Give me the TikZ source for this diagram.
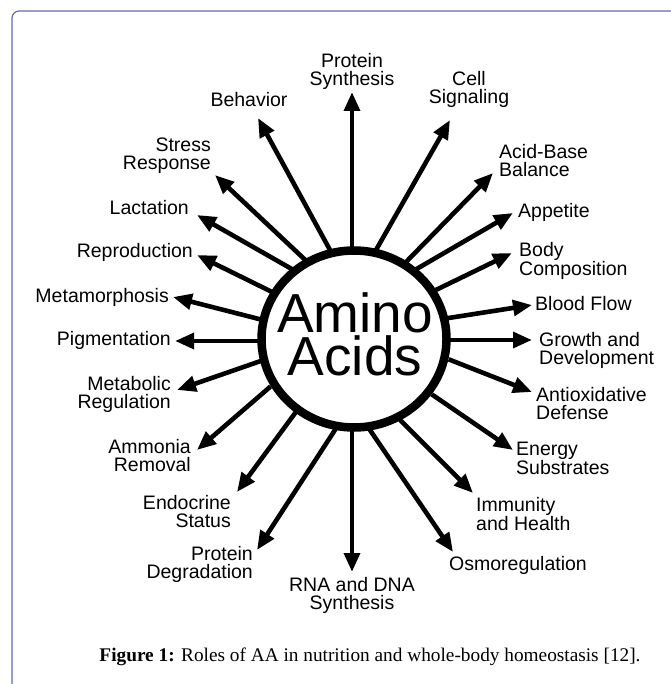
\documentclass[tikz,border=0pt]{standalone}
\usepackage{fontspec}
\setmainfont{Liberation Sans}
\newfontfamily\capfont{Liberation Serif}
\usetikzlibrary{arrows.meta,shapes.geometric}
\definecolor{framecol}{RGB}{104,104,172}
\begin{document}
\begin{tikzpicture}[x=1pt,y=-1pt,
  lbl/.style={inner sep=0pt, font=\fontsize{19.5}{18}\selectfont},
  lblL/.style={lbl, anchor=east, align=right},
  lblR/.style={lbl, anchor=west, align=left},
  lblC/.style={lbl, align=center},
  arr/.style={line width=4.6pt, -{Triangle[length=19pt,width=15.5pt]}, shorten <=-10pt},
  hub/.style={ellipse, draw, line width=8.5pt, fill=white, inner sep=0pt,
    minimum width=185pt, minimum height=177pt},
  hubtxt/.style={inner sep=0pt, font=\fontsize{55}{43}\selectfont, align=center}
]
\useasboundingbox (0,0) rectangle (670,684);
\fill[white] (0,0) rectangle (670,684);
\draw[framecol, line width=1.2pt, rounded corners=7pt] (672,11) -- (12,11) -- (12,686);

% arrows: start on the ring -> tip
\foreach \n/\sx/\sy/\tx/\ty in {
  1/352/250/352/92,
  2/376/250/450/120,
  3/408/260/493/173,
  4/420/267/513/213,
  5/442/287/512/253,
  6/455/317/532/305,
  7/455/340/532/340,
  8/458/363/532/392,
  9/440/400/513/450,
  10/407/427/473/493,
  11/372/433/453/552,
  12/352/430/352/572,
  13/333/433/257/550,
  14/290/420/237/492,
  15/263/393/197/450,
  16/255/363/177/390,
  17/255/341/175/341,
  18/255/318/173/297,
  19/268/290/197/255,
  20/290/268/197/215,
  21/300/255/215/175,
  22/330/250/258/118}{
  \coordinate (s\n) at (\sx,\sy);
  \coordinate (t\n) at (\tx,\ty);
  \draw[arr] (s\n) -- (t\n);
}

\node[hub] (aa) at (354,339) {};
\node[hubtxt] (aatxt) at (355,334) {Amino\\Acids};

% top / bottom
\node[lblC] (l1) at (352,71) {Protein\\Synthesis};
\node[lblC] (l12) at (352,595) {RNA and DNA\\Synthesis};
% right side
\node[lblC] (l2) at (469,89) {Cell\\Signaling};
\node[lblR] (l3) at (499,161) {Acid-Base\\Balance};
\node[lblR] (l4) at (518,212) {Appetite};
\node[lblR] (l5) at (519,261) {Body\\Composition};
\node[lblR] (l6) at (535,304) {Blood Flow};
\node[lblR] (l7) at (539,350) {Growth and\\Development};
\node[lblR] (l8) at (536,404) {Antioxidative\\Defense};
\node[lblR] (l9) at (516,458) {Energy\\Substrates};
\node[lblR] (l10) at (476,514) {Immunity\\and Health};
\node[lblR] (l11) at (449,565) {Osmoregulation};
% left side
\node[lblL] (l13) at (253,564) {Protein\\Degradation};
\node[lblL] (l14) at (231,512) {Endocrine\\Status};
\node[lblL] (l15) at (191,456) {Ammonia\\Removal};
\node[lblL] (l16) at (171,394) {Metabolic\\Regulation};
\node[lblL] (l17) at (171,340) {Pigmentation};
\node[lblL] (l18) at (169,297) {Metamorphosis};
\node[lblL] (l19) at (193,252) {Reproduction};
\node[lblL] (l20) at (189,208) {Lactation};
\node[lblL] (l21) at (211,156) {Stress\\Response};
\node[lblC] (l22) at (249,100) {Behavior};

% caption
\node[font=\capfont\fontsize{19.3}{21}\selectfont, inner sep=0pt] (cap) at (370,657)
  {\textbf{Figure 1:} Roles of AA in nutrition and whole-body homeostasis [12].};
\end{tikzpicture}
\end{document}
